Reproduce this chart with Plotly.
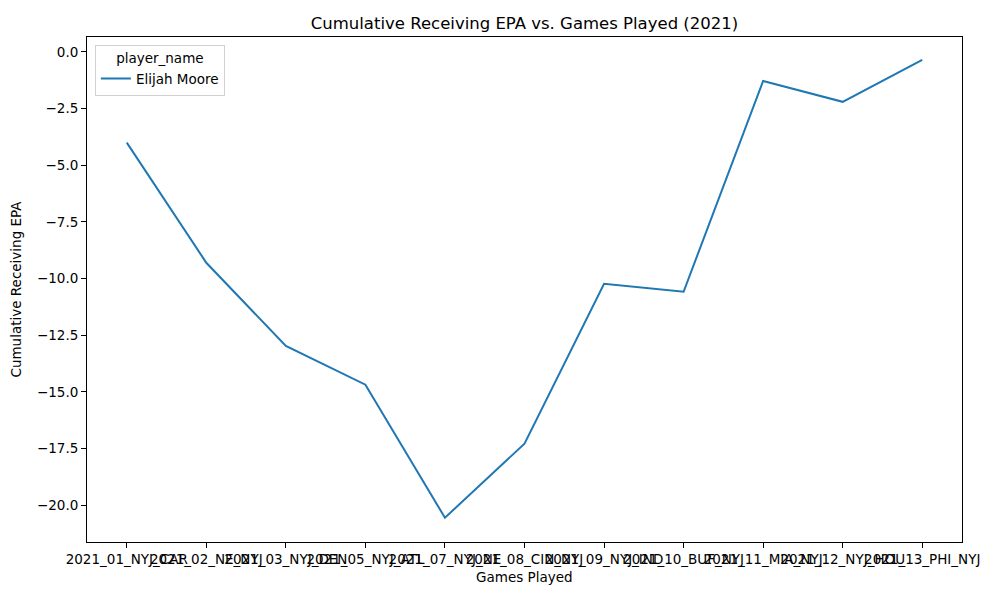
import plotly.graph_objects as go

games = [
    "2021_01_NYJ_CAR", "2021_02_NE_NYJ", "2021_03_NYJ_DEN", "2021_05_NYJ_ATL",
    "2021_07_NYJ_NE", "2021_08_CIN_NYJ", "2021_09_NYJ_IND", "2021_10_BUF_NYJ",
    "2021_11_MIA_NYJ", "2021_12_NYJ_HOU", "2021_13_PHI_NYJ",
]
cum_epa = [-4.0, -9.3, -12.97, -14.68, -20.55, -17.28, -10.23, -10.58, -1.28, -2.2, -0.35]
player = "Elijah Moore"

yticks = [0.0, -2.5, -5.0, -7.5, -10.0, -12.5, -15.0, -17.5, -20.0]

fig = go.Figure()
fig.add_trace(go.Scatter(x=games, y=cum_epa, mode="lines", name=player,
                         line=dict(color="#1f77b4", width=2)))

# page body has an 8px margin, so margins are shifted to land the axes where the reference has them
fig.update_layout(
    width=1000, height=600,
    margin=dict(l=79, r=46, t=29, b=66),
    paper_bgcolor="white", plot_bgcolor="white",
    font=dict(family="DejaVu Sans", size=13.5, color="black"),
    title=dict(text="Cumulative Receiving EPA vs. Games Played (2021)",
               x=0.5, xref="paper", y=0.975, yanchor="middle",
               font=dict(size=16.5)),
    showlegend=True,
    legend=dict(title=dict(text="player_name", side="top center", font=dict(size=13.5)),
                font=dict(size=13.5),
                x=0.009, y=0.985, xanchor="left", yanchor="top",
                bordercolor="#d0d0d0", borderwidth=1, bgcolor="white"),
    annotations=[dict(text="Games Played", xref="paper", yref="paper",
                      x=0.5, y=-0.069, yanchor="middle", showarrow=False,
                      font=dict(size=13.5))],
)
fig.update_xaxes(
    type="category", range=[-0.5, 10.5], tickangle=0, automargin=False,
    showline=True, linecolor="black", linewidth=1, mirror=True,
    ticks="outside", ticklen=5, tickcolor="black", showgrid=False,
)
fig.update_yaxes(
    range=[-21.62, 0.66], tickvals=yticks, automargin=False,
    ticktext=[f"{v:.1f}".replace("-", "\u2212") for v in yticks],
    showline=True, linecolor="black", linewidth=1, mirror=True,
    ticks="outside", ticklen=5, tickcolor="black", showgrid=False, zeroline=False,
    title=dict(text="Cumulative Receiving EPA", font=dict(size=13.5)),
)

fig.write_html("out.html")
